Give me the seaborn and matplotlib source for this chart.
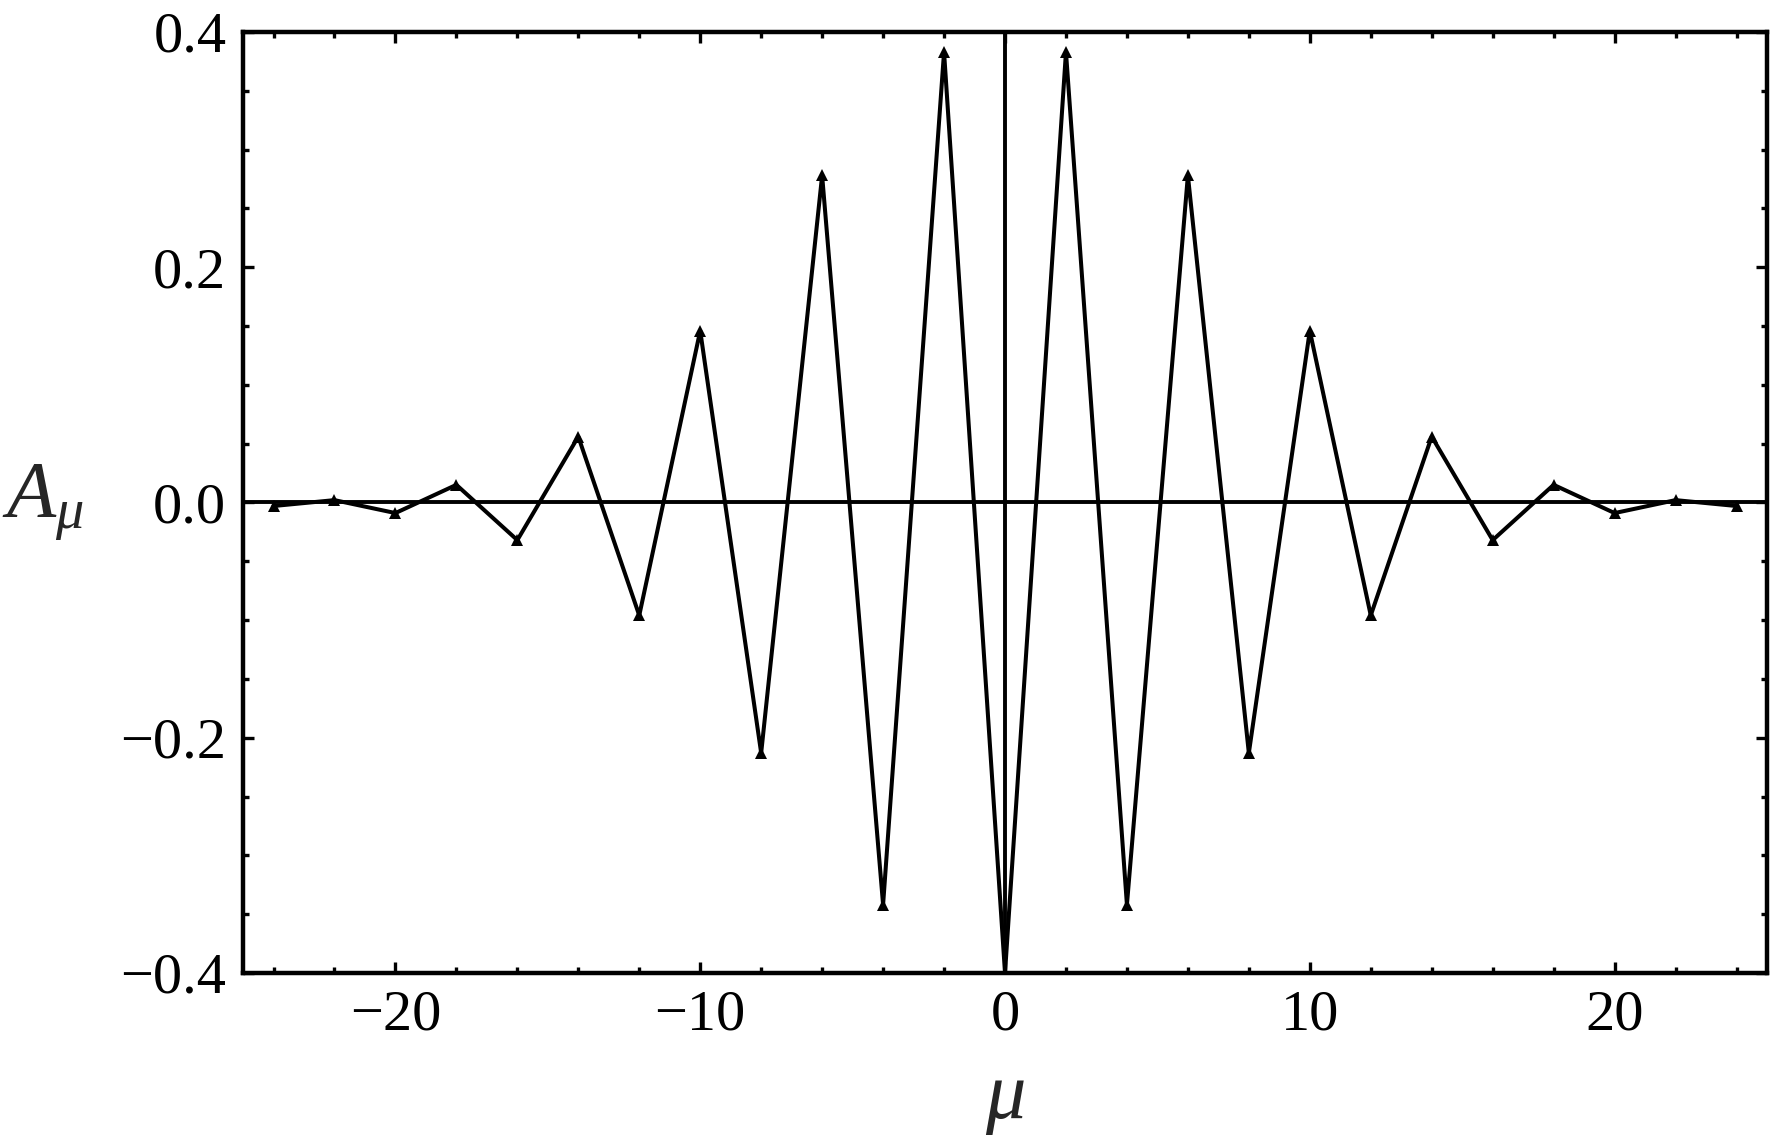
import numpy as np
import pandas as pd
import matplotlib
matplotlib.use("Agg")
import matplotlib.pyplot as plt
from matplotlib.ticker import MultipleLocator
import seaborn as sns

# Dados (simétricos em mu)
mu = [-24, -22, -20, -18, -16, -14, -12, -10, -8, -6, -4, -2, 0,
      2, 4, 6, 8, 10, 12, 14, 16, 18, 20, 22, 24]
a_mu = [-0.003, 0.002, -0.009, 0.015, -0.032, 0.056, -0.096, 0.146, -0.213, 0.278, -0.342, 0.383, -0.400,
        0.383, -0.342, 0.278, -0.213, 0.146, -0.096, 0.056, -0.032, 0.015, -0.009, 0.002, -0.003]

x_ticks = [-20, -10, 0, 10, 20]
x_tick_labels = ["\u221220", "\u221210", "0", "10", "20"]
y_ticks = [-0.4, -0.2, 0.0, 0.2, 0.4]
y_tick_labels = ["\u22120.4", "\u22120.2", "0.0", "0.2", "0.4"]

sns.set_theme(style="ticks")
plt.rcParams['font.family'] = ['Liberation Serif', 'DejaVu Serif']
plt.rcParams['mathtext.fontset'] = 'custom'
plt.rcParams['mathtext.rm'] = 'Liberation Serif'
plt.rcParams['mathtext.it'] = 'Liberation Serif:italic'

df = pd.DataFrame({'mu': mu, 'A': a_mu})

fig = plt.figure(figsize=(17.7, 11.42), dpi=100)
ax = fig.add_axes([0.1373, 0.148, 0.861, 0.824])

# eixos em zero (estilo Mathematica)
ax.axhline(0, color='black', lw=2.8, zorder=1)
ax.axvline(0, color='black', lw=2.8, zorder=1)

sns.lineplot(data=df, x='mu', y='A', ax=ax, color='black', lw=2.9,
             marker='^', markersize=9, markeredgewidth=0, zorder=3)

ax.set_xlim(-25, 25)
ax.set_ylim(-0.4, 0.4)
ax.set_xticks(x_ticks)
ax.set_xticklabels(x_tick_labels)
ax.set_yticks(y_ticks)
ax.set_yticklabels(y_tick_labels)
ax.xaxis.set_minor_locator(MultipleLocator(2))
ax.yaxis.set_minor_locator(MultipleLocator(0.05))

ax.tick_params(which='both', direction='in', top=True, right=True,
               labelsize=42, width=2.4, color='black', labelcolor='black')
ax.tick_params(which='major', length=8, pad=12)
ax.tick_params(which='minor', length=4.5)
for s in ax.spines.values():
    s.set_linewidth(3.2)
    s.set_color('black')

ax.set_xlabel(r'$\mu$', fontsize=58, labelpad=16)
ax.set_ylabel(r'$A_{\mu}$', fontsize=58, rotation=0, va='center', ha='left')
ax.yaxis.set_label_coords(-0.158, 0.5)

fig.savefig('out.png', dpi=100)
